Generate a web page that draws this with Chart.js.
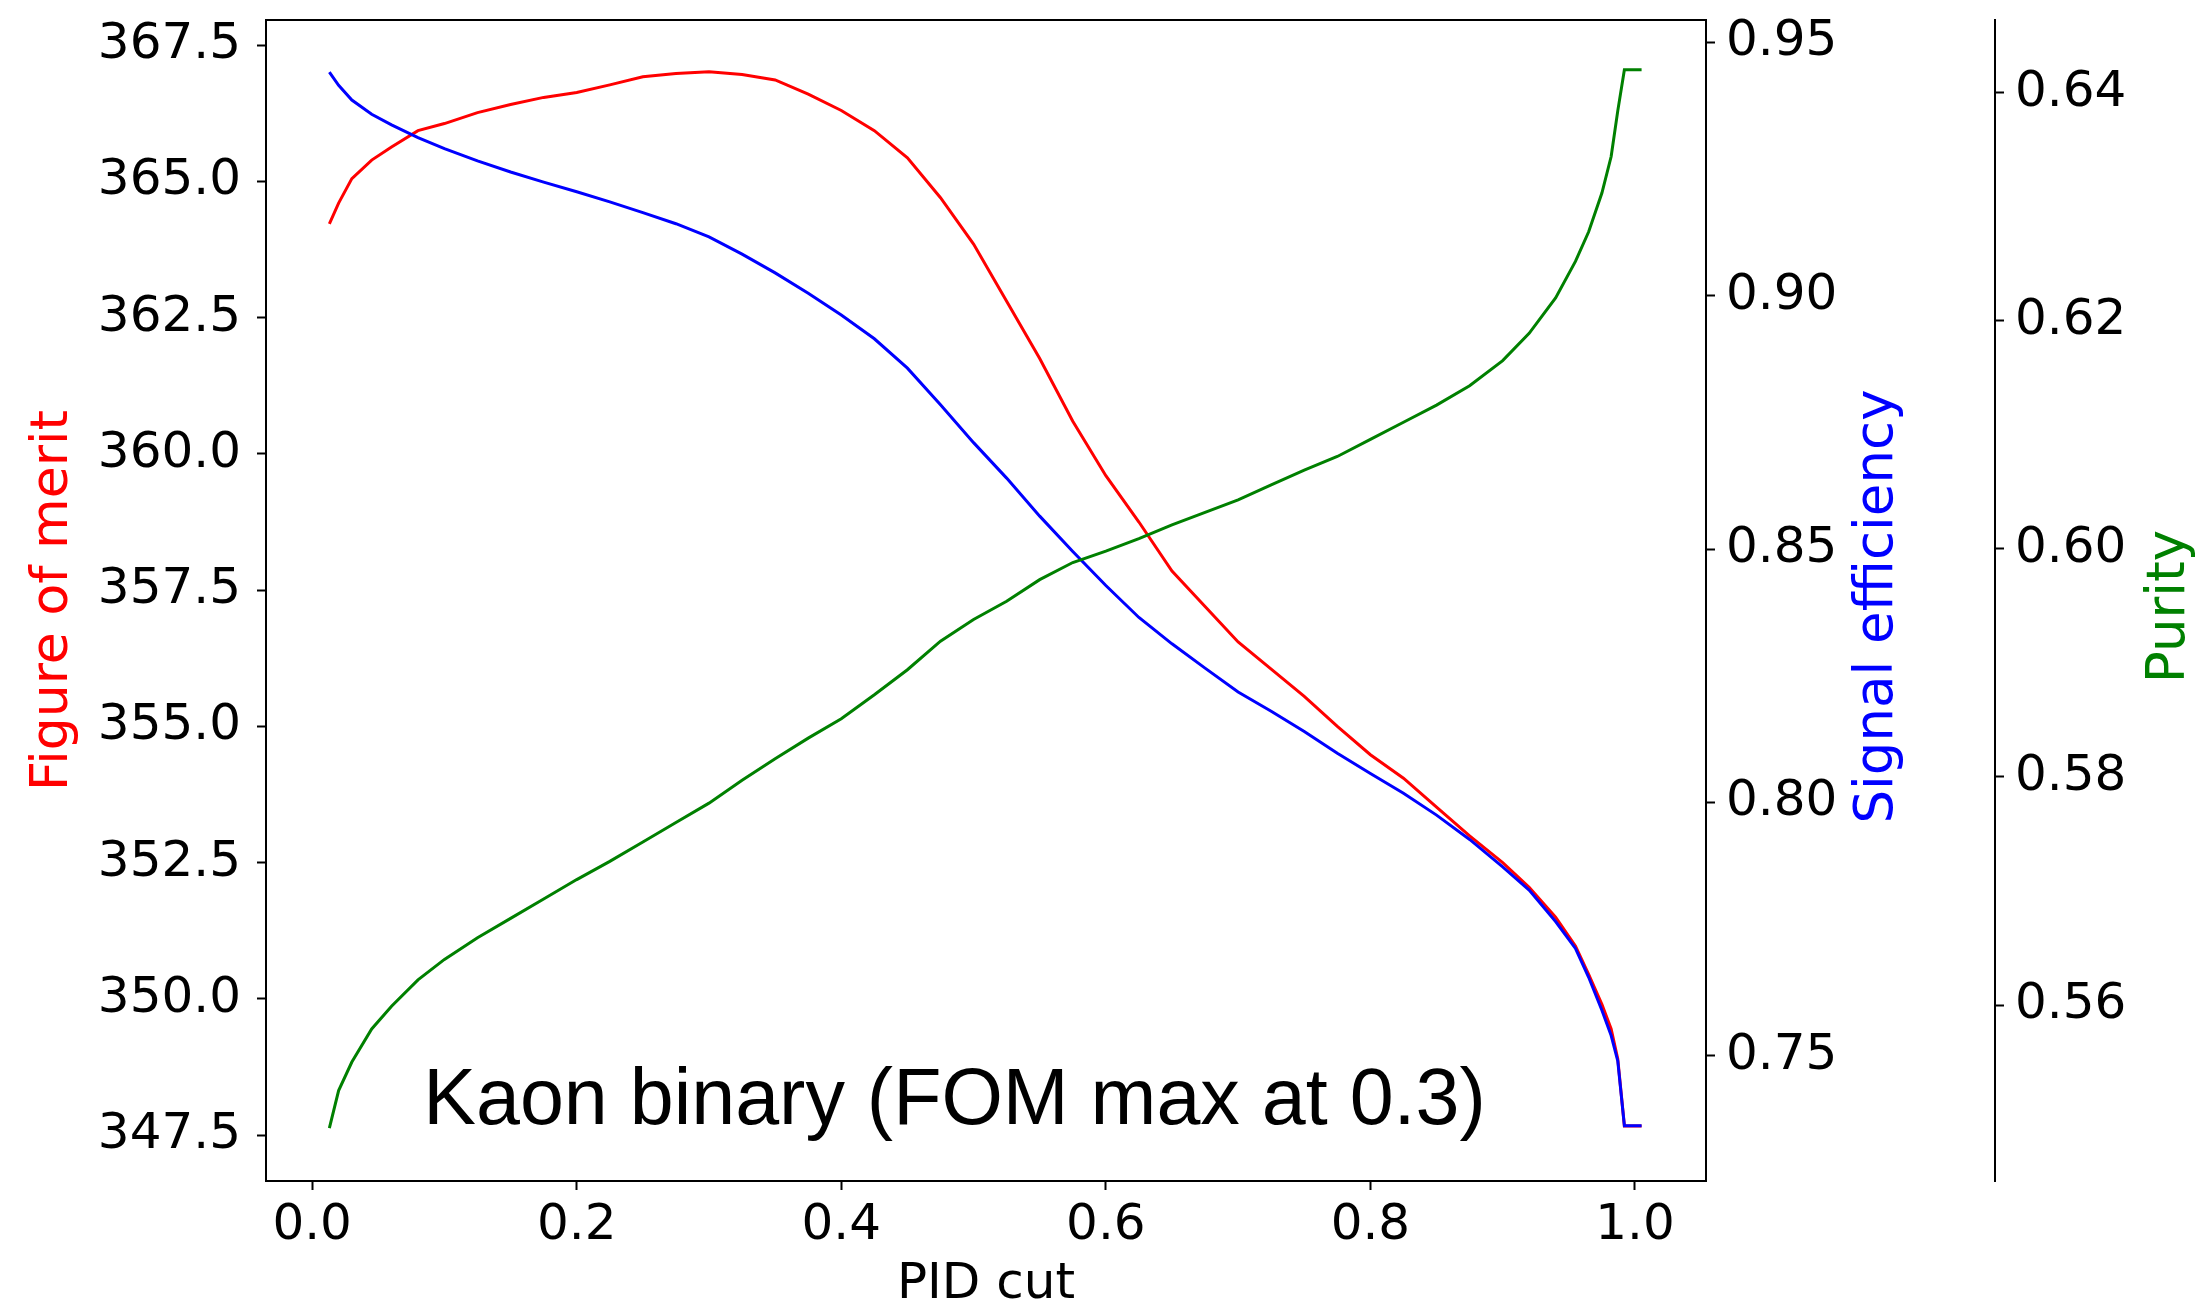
<!DOCTYPE html>
<html>
<head>
<meta charset="utf-8">
<title>Kaon binary</title>
<script src="https://cdn.jsdelivr.net/npm/chart.js@4.4.1/dist/chart.umd.min.js"></script>
<style>
  html, body { margin: 0; padding: 0; background: #fff; }
  #caixa { width: 2203px; height: 1309px; position: relative; }
</style>
</head>
<body>
<div id="caixa"><canvas id="graficoPid"></canvas></div>
<script>
// Dados (corte PID no eixo x)
const pidCut = [0.013, 0.02, 0.03, 0.045, 0.06, 0.08, 0.1, 0.125, 0.15, 0.175, 0.2, 0.225, 0.25, 0.275, 0.3, 0.325,
  0.35, 0.375, 0.4, 0.425, 0.45, 0.475, 0.5, 0.525, 0.55, 0.575, 0.6, 0.625, 0.65, 0.675, 0.7, 0.725, 0.75, 0.775,
  0.8, 0.825, 0.85, 0.875, 0.9, 0.92, 0.94, 0.955, 0.965, 0.975, 0.982, 0.987, 0.992, 1.005];

// Figure of merit (eixo da esquerda)
const figuraMerito = [364.22, 364.6, 365.05, 365.39, 365.63, 365.93, 366.06, 366.26, 366.41, 366.54, 366.63, 366.77,
  366.92, 366.98, 367.01, 366.96, 366.86, 366.6, 366.3, 365.93, 365.43, 364.7, 363.85, 362.8, 361.75, 360.6, 359.6,
  358.75, 357.85, 357.2, 356.55, 356.05, 355.55, 355.0, 354.48, 354.05, 353.52, 352.99, 352.5, 352.05, 351.5, 350.97,
  350.45, 349.9, 349.45, 348.9, 347.67, 347.67];

// Signal efficiency (primeiro eixo da direita)
const eficienciaSinal = [0.9441, 0.9415, 0.9386, 0.9358, 0.9337, 0.9312, 0.929, 0.9266, 0.9244, 0.9224, 0.9205, 0.9185,
  0.9164, 0.9142, 0.9116, 0.9082, 0.9045, 0.9005, 0.8962, 0.8915, 0.8857, 0.8785, 0.871, 0.864, 0.8565, 0.8495, 0.8428,
  0.8365, 0.8313, 0.8265, 0.8218, 0.818, 0.814, 0.8097, 0.8057, 0.8018, 0.7975, 0.7927, 0.7873, 0.7827, 0.7765, 0.7712,
  0.7655, 0.759, 0.754, 0.749, 0.7362, 0.7362];

// Purity (segundo eixo da direita)
const pureza = [0.5492, 0.5525, 0.555, 0.5579, 0.5599, 0.5622, 0.564, 0.5659, 0.5676, 0.5693, 0.571, 0.5726, 0.5743,
  0.576, 0.5777, 0.5797, 0.5816, 0.5834, 0.5851, 0.5872, 0.5894, 0.5919, 0.5938, 0.5954, 0.5973, 0.5988, 0.5998, 0.6009,
  0.6021, 0.6032, 0.6043, 0.6056, 0.6069, 0.6081, 0.6096, 0.6111, 0.6126, 0.6143, 0.6165, 0.6189, 0.622, 0.6252, 0.6278,
  0.6312, 0.6344, 0.6384, 0.642, 0.642];

// Marcas dos eixos
const ticksX = [0.0, 0.2, 0.4, 0.6, 0.8, 1.0];
const ticksFom = [347.5, 350.0, 352.5, 355.0, 357.5, 360.0, 362.5, 365.0, 367.5];
const ticksEficiencia = [0.75, 0.80, 0.85, 0.90, 0.95];
const ticksPureza = [0.56, 0.58, 0.60, 0.62, 0.64];

const textoAnotacao = 'Kaon binary (FOM max at 0.3)';

const fonteTicks = { family: 'DejaVu Sans', size: 50 };

function pontos(valores) {
  return pidCut.map((x, i) => ({ x: x, y: valores[i] }));
}

// configuração comum dos eixos y
function eixoY(posicao, min, max, marcas, casas, largura, espaco, peso) {
  return {
    type: 'linear',
    position: posicao,
    weight: peso,
    min: min,
    max: max,
    afterBuildTicks: eixo => { eixo.ticks = marcas.map(v => ({ value: v })); },
    afterFit: eixo => { eixo.width = largura; eixo.paddingTop = 0; eixo.paddingBottom = 0; },
    grid: { drawOnChartArea: false, drawTicks: true, tickLength: 9, tickWidth: 2, tickColor: '#000' },
    border: { display: true, color: '#000', width: 2 },
    ticks: { autoSkip: false, padding: espaco, color: '#000', font: fonteTicks,
      callback: v => Number(v).toFixed(casas) }
  };
}

// titulos da direita girados como no matplotlib (de baixo para cima)
function tituloDireita(ctx, eixo, texto, cor, folga) {
  ctx.font = '50px "DejaVu Sans"';
  let maior = 0;
  eixo.ticks.forEach(t => { maior = Math.max(maior, ctx.measureText(t.label).width); });
  const x = eixo.left + 9 + 11 + maior + folga;
  const y = (eixo.top + eixo.bottom) / 2 + 6;
  ctx.save();
  ctx.translate(x, y);
  ctx.rotate(-Math.PI / 2);
  ctx.fillStyle = cor;
  ctx.textAlign = 'center';
  ctx.textBaseline = 'middle';
  ctx.font = '53px "DejaVu Sans"';
  ctx.fillText(texto, 0, 0);
  ctx.restore();
}

const extras = {
  id: 'extras',
  afterDraw(chart) {
    const ctx = chart.ctx;
    const area = chart.chartArea;

    // borda de cima da caixa
    ctx.save();
    ctx.strokeStyle = '#000';
    ctx.lineWidth = 2;
    ctx.beginPath();
    ctx.moveTo(area.left - 1, area.top);
    ctx.lineTo(area.right + 1, area.top);
    ctx.stroke();
    ctx.restore();

    tituloDireita(ctx, chart.scales.y1, 'Signal efficiency', '#0000ff', 41);
    tituloDireita(ctx, chart.scales.y2, 'Purity', '#008000', 44);

    // anotação dentro do gráfico
    ctx.save();
    ctx.font = '79px "Liberation Sans"';
    ctx.fillStyle = '#000';
    ctx.textAlign = 'left';
    ctx.textBaseline = 'alphabetic';
    ctx.fillText(textoAnotacao, chart.scales.x.getPixelForValue(0.084), chart.scales.y.getPixelForValue(347.7));
    ctx.restore();
  }
};

const ctx = document.getElementById('graficoPid').getContext('2d');

new Chart(ctx, {
  type: 'line',
  data: {
    datasets: [
      { label: 'Figure of merit', data: pontos(figuraMerito), yAxisID: 'y', borderColor: '#ff0000', order: 3 },
      { label: 'Signal efficiency', data: pontos(eficienciaSinal), yAxisID: 'y1', borderColor: '#0000ff', order: 2 },
      { label: 'Purity', data: pontos(pureza), yAxisID: 'y2', borderColor: '#008000', order: 1 }
    ]
  },
  options: {
    responsive: true,
    maintainAspectRatio: false,
    animation: false,
    layout: { padding: { top: 20, right: 0, bottom: 0, left: 0 } },
    elements: {
      line: { borderWidth: 3, tension: 0, fill: false },
      point: { radius: 0, hoverRadius: 0 }
    },
    plugins: { legend: { display: false }, tooltip: { enabled: false } },
    scales: {
      x: {
        type: 'linear',
        min: -0.0349,
        max: 1.0537,
        afterBuildTicks: eixo => { eixo.ticks = ticksX.map(v => ({ value: v })); },
        afterFit: eixo => { eixo.height = 128; eixo.paddingLeft = 0; eixo.paddingRight = 0; },
        grid: { drawOnChartArea: false, drawTicks: true, tickLength: 9, tickWidth: 2, tickColor: '#000' },
        border: { display: true, color: '#000', width: 2 },
        ticks: { autoSkip: false, maxRotation: 0, padding: 6, color: '#000', font: fonteTicks,
          callback: v => Number(v).toFixed(1) },
        title: { display: true, text: 'PID cut', color: '#000',
          font: { family: 'DejaVu Sans', size: 50, lineHeight: 0.9 }, padding: { top: 0, bottom: 1 } }
      },
      y: Object.assign(eixoY('left', 346.66, 367.96, ticksFom, 1, 266, 16, 0), {
        title: { display: true, text: 'Figure of merit', color: '#ff0000',
          font: { family: 'DejaVu Sans', size: 52 }, padding: { top: 22, bottom: 0 } }
      }),
      y1: eixoY('right', 0.7253, 0.9544, ticksEficiencia, 2, 289, 11, 1),
      y2: eixoY('right', 0.54457, 0.64637, ticksPureza, 2, 208, 11, 2)
    }
  },
  plugins: [extras]
});
</script>
</body>
</html>
